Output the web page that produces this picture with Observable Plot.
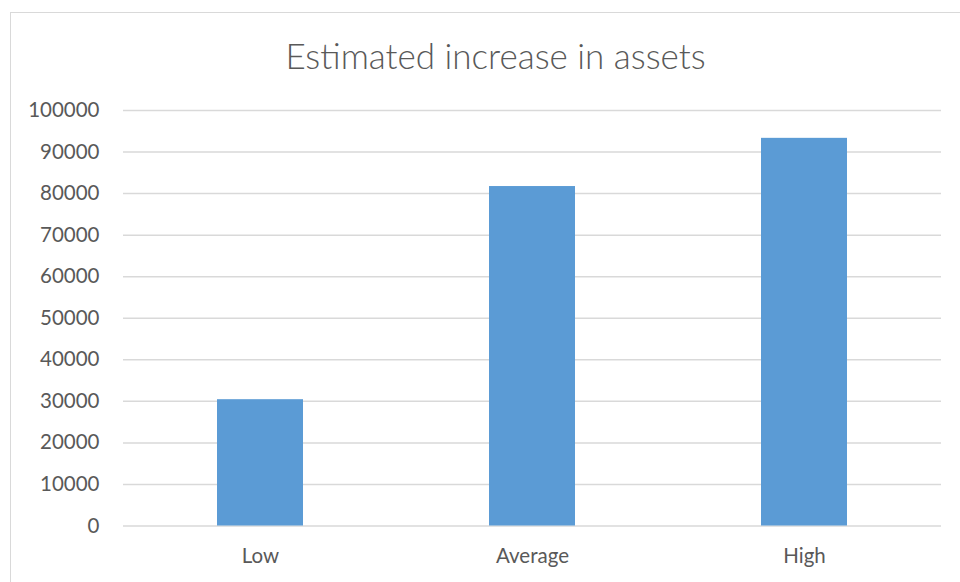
<!DOCTYPE html>
<html>
<head>
<meta charset="utf-8">
<script src="https://cdn.jsdelivr.net/npm/d3@7"></script>
<script src="https://cdn.jsdelivr.net/npm/@observablehq/plot@0.6"></script>
<style>
  html, body { margin: 0; padding: 0; background: #fff; }
  #wrap { position: relative; width: 960px; height: 582px; overflow: hidden; }
  #frame {
    position: absolute; left: 10px; top: 12px; width: 960px; height: 600px;
    border-left: 1.5px solid #d9d9d9; border-top: 1.5px solid #d9d9d9;
    pointer-events: none;
  }
  #chart { position: absolute; left: 0; top: 0; }
</style>
</head>
<body>
<div id="wrap">
  <div id="chart"></div>
  <div id="frame"></div>
</div>
<script>
// Scenario labels and estimated asset increase for each
const scenarios = ["Low", "Average", "High"];
const increases = [30400, 81700, 93300];
const yTicks = [0, 10000, 20000, 30000, 40000, 50000, 60000, 70000, 80000, 90000, 100000];
const chartTitle = "Estimated increase in assets";

const rows = scenarios.map((s, i) => ({scenario: s, value: increases[i]}));

const font = "Lato, 'Open Sans', sans-serif";
const textColor = "#595959";
const gridColor = "#d9d9d9";

const chart = Plot.plot({
  width: 960,
  height: 582,
  marginTop: 110,
  marginBottom: 56.5,
  marginLeft: 123,
  marginRight: 19,
  style: {fontFamily: font, fontSize: "21px", color: textColor, background: "transparent"},
  x: {domain: scenarios, paddingInner: 0.685, paddingOuter: 0.3425, label: null},
  y: {domain: [0, 100000], ticks: yTicks, label: null},
  marks: [
    Plot.gridY(yTicks, {stroke: gridColor, strokeOpacity: 1, strokeWidth: 1.5}),
    Plot.barY(rows, {x: "scenario", y: "value", fill: "#5b9bd5"}),
    Plot.axisY(yTicks, {
      tickSize: 0, tickPadding: 24, tickFormat: d3.format("d"),
      fill: textColor, fontSize: 20.5, fontWeight: 400, label: null
    }),
    Plot.axisX({tickSize: 0, tickPadding: 22, fill: textColor, fontSize: 20.5, fontWeight: 400, label: null}),
    Plot.text([chartTitle], {
      frameAnchor: "top", dy: -42, dx: -37, lineAnchor: "bottom",
      fontSize: 35, fontWeight: 300, fill: textColor, fontFamily: font
    })
  ]
});

document.getElementById("chart").appendChild(chart);
</script>
</body>
</html>
